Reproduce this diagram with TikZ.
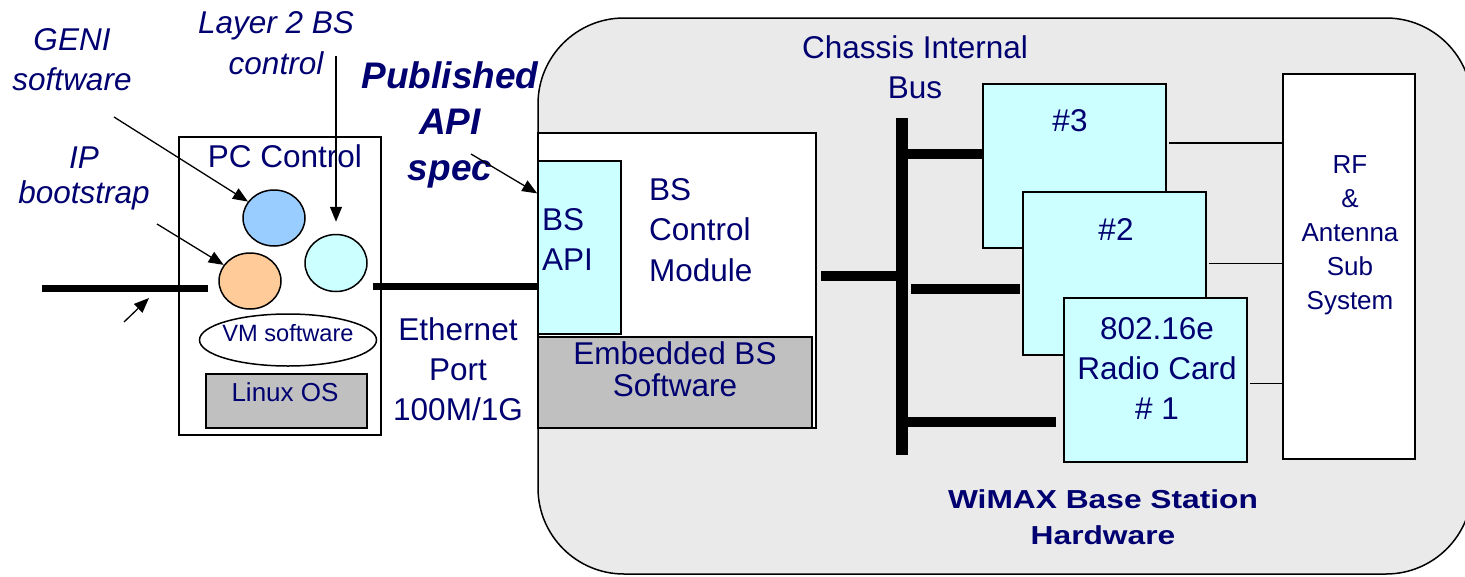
\documentclass[tikz,border=0pt]{standalone}
\usepackage{fontspec}
\setmainfont{Liberation Sans}
\newfontfamily\widebold{Liberation Sans}[FakeStretch=1.22]
\usetikzlibrary{arrows.meta,shapes.geometric,calc}
\definecolor{navy}{RGB}{0,0,112}
\definecolor{chassisgray}{RGB}{234,234,234}
\definecolor{swgray}{RGB}{192,192,192}
\definecolor{lightcyan}{RGB}{204,255,255}
\definecolor{lightblue}{RGB}{153,204,255}
\definecolor{lightorange}{RGB}{255,204,153}
\newcommand\myfs[2]{\fontsize{#1}{#2}\selectfont}
\begin{document}
\begin{tikzpicture}[x=1pt,y=-1pt,
  txt/.style={text=navy, inner sep=0pt, align=center, anchor=base, font=\myfs{31.5}{40}},
  itxt/.style={txt, font=\myfs{31.5}{#1}\itshape},
  box/.style={draw=black, line width=1.5pt, inner sep=0pt},
  oval/.style={draw=black, line width=1.5pt, ellipse, inner sep=0pt},
  arr/.style={draw=black, line width=1.3pt, -{Triangle[length=15pt,width=12pt]}},
  eth/.style={line width=7pt},
  busline/.style={line width=10pt},
  rfline/.style={line width=1.5pt}]
\useasboundingbox (0,0) rectangle (1465,576);

% chassis
\node[box, fill=chassisgray, rounded corners=86pt, minimum width=934pt, minimum height=556pt] (chassis) at (1005,296) {};

% BS control module
\node[box, fill=white, minimum width=278pt, minimum height=295pt] (bsctl) at (677,280.5) {};
\node[box, fill=swgray, minimum width=274pt, minimum height=91pt] (embed) at (675,382.5) {};
\node[box, fill=lightcyan, minimum width=83pt, minimum height=173pt] (bsapi) at (579.5,247.5) {};
\node[txt, anchor=base west, align=left] (bsapitxt) at (542,270) {BS\\API};
\node[txt, anchor=base west, align=left, font=\myfs{31.5}{40.5}] (bsctltxt) at (649,281) {BS\\Control\\Module};
\node[txt, font=\myfs{31.5}{32}] (embedtxt) at (675,396) {Embedded BS\\Software};

% bus
\coordinate (busT) at (902,118);
\coordinate (busB) at (902,455);
\draw[line width=12pt] (busT) -- (busB);
\node[txt] (bustxt) at (915,98) {Chassis Internal\\Bus};

% cards
\node[box, fill=lightcyan, minimum width=183pt, minimum height=164pt] (card3) at (1074.5,166) {};
\node[box, fill=lightcyan, minimum width=183pt, minimum height=163pt] (card2) at (1114.5,273.5) {};
\node[box, fill=lightcyan, minimum width=183pt, minimum height=164pt] (card1) at (1155.5,380) {};
\node[txt] (c3txt) at (1070,131) {\#3};
\node[txt] (c2txt) at (1116,240) {\#2};
\node[txt] (c1txt) at (1157,419) {802.16e\\Radio Card\\\# 1};

% RF
\node[box, fill=white, minimum width=132pt, minimum height=385pt] (rf) at (1349,266.5) {};
\node[txt, font=\myfs{26}{34}] (rftxt) at (1350,309) {RF\\\&\\Antenna\\Sub\\System};

% bus branches
\draw[busline, shorten <=4pt] (bsctl.east |- 0,276) -- (busT |- 0,276);
\coordinate (b3) at (902,154);
\draw[busline] (b3) -- (b3 -| card3.west);
\coordinate (b2) at (911,289);
\draw[busline, shorten >=2pt] (b2) -- (b2 -| card2.west);
\coordinate (b1) at (902,422);
\draw[busline, shorten >=7pt] (b1) -- (b1 -| card1.west);

% card to RF lines
\coordinate (r3) at ($(card3.north east)!0.36!(card3.south east)$);
\coordinate (r2) at ($(card2.north east)!0.44!(card2.south east)$);
\coordinate (r1) at ($(card1.north east)!0.52!(card1.south east)$);
\draw[rfline, shorten <=2pt] (r3) -- (r3 -| rf.west);
\draw[rfline, shorten <=2pt] (r2) -- (r2 -| rf.west);
\draw[rfline, shorten <=2pt] (r1) -- (r1 -| rf.west);

\node[txt, font=\myfs{26}{36}\widebold\bfseries] (wimax) at (1103,544) {WiMAX Base Station\\Hardware};

% PC control
\node[box, fill=white, minimum width=202pt, minimum height=298pt] (pc) at (280,286) {};
\node[txt] (pctxt) at (285,167) {PC Control};
\node[oval, fill=lightblue, minimum width=62pt, minimum height=56pt] (blue) at (274,218) {};
\node[oval, fill=lightcyan, minimum width=62pt, minimum height=57pt] (cyan) at (336,263) {};
\node[oval, fill=lightorange, minimum width=62pt, minimum height=56pt] (orange) at (250,281) {};
\node[oval, fill=white, minimum width=177pt, minimum height=52pt] (vm) at (288,340) {};
\node[txt, font=\myfs{23.6}{28}] (vmtxt) at (288,341) {VM software};
\node[box, fill=swgray, minimum width=161pt, minimum height=54pt] (linux) at (286.5,401) {};
\node[txt, font=\myfs{26}{30}] (linuxtxt) at (285,401) {Linux OS};

% ethernet lines
\coordinate (ethL1) at (42,288);
\coordinate (ethL2) at (208,288);
\draw[eth] (ethL1) -- (ethL2);
\coordinate (ethR) at (372.5,286);
\draw[eth] (ethR) -- (ethR -| bsapi.west);
\coordinate (smallT) at (124,322);
\coordinate (smallH) at (149,298);
\draw[arr] (smallT) -- (smallH);
\node[txt] (ethtxt) at (458,420) {Ethernet\\Port\\100M/1G};

% labels
\node[itxt=40] (geni) at (72,90) {GENI\\software};
\node[itxt=41] (layer2) at (276,74) {Layer 2 BS\\control};
\node[itxt=35] (ip) at (84,203) {IP\\bootstrap};
\node[txt, font=\myfs{37}{46}\bfseries\itshape] (pub) at (450,180) {Published\\API\\spec};

% arrows
\coordinate (geniT) at (114,117);
\draw[arr] (geniT) -- (blue);
\coordinate (ipT) at (157,224);
\draw[arr] (ipT) -- (orange);
\coordinate (l2T) at (336,56);
\draw[arr, shorten >=12pt] (l2T) -- (cyan.north);
\coordinate (pubT) at (471,154);
\draw[arr] (pubT) -- ($(bsapi.north west)!0.19!(bsapi.south west)$);
\end{tikzpicture}
\end{document}
